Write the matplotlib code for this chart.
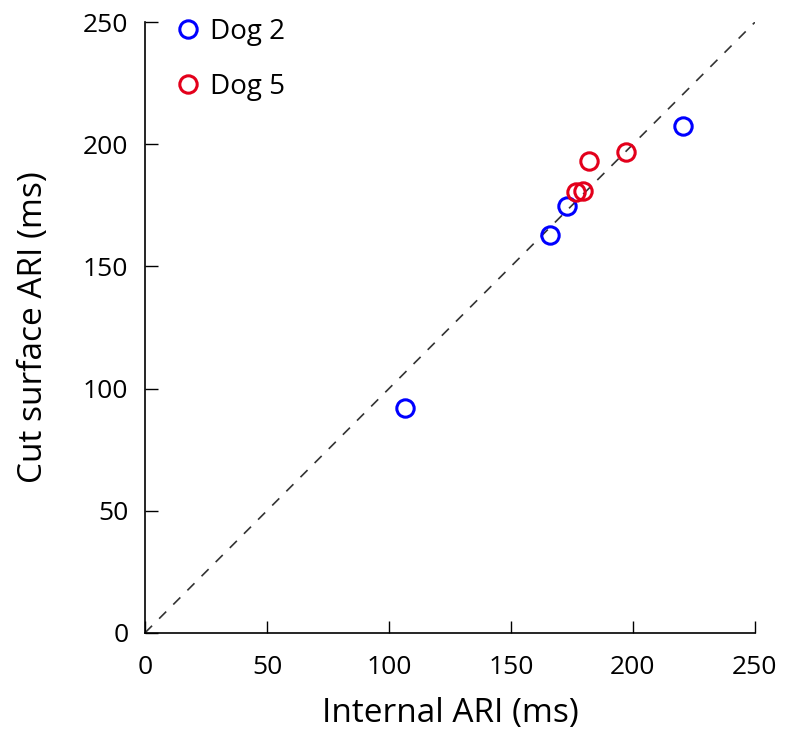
import numpy as np
import matplotlib.pyplot as plt

# values
dog2_internal = [106.6, 166.0, 172.8, 220.4]
dog2_surface = [92.1, 162.8, 174.8, 207.4]
dog5_internal = [176.6, 179.4, 182.1, 197.1]
dog5_surface = [180.3, 180.8, 193.2, 196.9]
ticks = [0, 50, 100, 150, 200, 250]

plt.rcParams['font.family'] = ['Open Sans', 'DejaVu Sans']

fig = plt.figure(figsize=(7.88, 7.41), dpi=100)
ax = fig.add_axes([0.184, 0.146, 0.774, 0.824])

ax.plot([0, 250], [0, 250], color='#333333', linestyle=(0, (6, 6)), linewidth=1.2)
ax.plot(dog2_internal, dog2_surface, 'o', mfc='none', mec='#0000ff', ms=12.5, mew=2.2,
        linestyle='none', label='Dog 2')
ax.plot(dog5_internal, dog5_surface, 'o', mfc='none', mec='#e3001b', ms=12.5, mew=2.2,
        linestyle='none', label='Dog 5')

ax.set_xlim(0, 250)
ax.set_ylim(0, 250)
ax.set_xticks(ticks)
ax.set_yticks(ticks)
ax.tick_params(direction='in', length=9, width=1, labelsize=19)
ax.tick_params(axis='x', pad=16)
ax.tick_params(axis='y', pad=12)
ax.spines['top'].set_visible(False)
ax.spines['right'].set_visible(False)
ax.spines['left'].set_linewidth(1.2)
ax.spines['bottom'].set_linewidth(1.2)
ax.set_xlabel('Internal ARI (ms)', fontsize=24, labelpad=12)
ax.set_ylabel('Cut surface ARI (ms)', fontsize=24, labelpad=24)

ax.legend(loc='upper left', frameon=False, fontsize=20, handletextpad=0.3,
          labelspacing=0.97, borderaxespad=0.2, bbox_to_anchor=(0.02, 1.034),
          handlelength=1.0)

fig.savefig('out.png', dpi=100)
